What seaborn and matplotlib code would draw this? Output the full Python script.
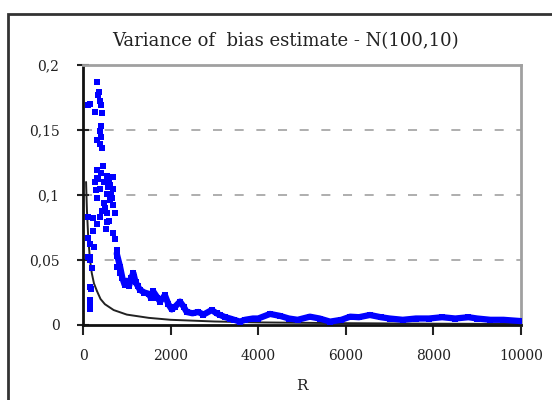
import numpy as np
import pandas as pd
import matplotlib
matplotlib.use("Agg")
import matplotlib.pyplot as plt
import seaborn as sns
from matplotlib.patches import Rectangle
from matplotlib.ticker import FuncFormatter

# scattered estimates at small R
scatter_r = [313, 372, 350, 114, 160, 388, 404, 274, 430, 411, 388, 400, 313, 430, 380,
             313, 456, 540, 690, 274, 616, 388, 690, 540, 313, 616, 690, 500, 540, 730,
             350, 420, 470, 600, 650, 290, 330, 560, 660, 480,
             114, 235, 388, 313, 540, 235, 690, 730, 114, 160, 770, 770, 114, 160, 160,
             770, 845, 160, 180, 160, 160, 160, 200, 250, 440, 520, 600]
scatter_v = [0.187, 0.179, 0.177, 0.169, 0.170, 0.172, 0.169, 0.164, 0.163, 0.153, 0.149, 0.145, 0.142, 0.136, 0.139,
             0.119, 0.122, 0.115, 0.114, 0.110, 0.108, 0.105, 0.105, 0.101, 0.098, 0.096, 0.092, 0.090, 0.086, 0.086,
             0.112, 0.117, 0.110, 0.112, 0.100, 0.104, 0.113, 0.106, 0.098, 0.094,
             0.083, 0.082, 0.083, 0.078, 0.079, 0.072, 0.071, 0.066, 0.067, 0.062, 0.058, 0.053, 0.052, 0.052, 0.050,
             0.045, 0.040, 0.029, 0.028, 0.019, 0.015, 0.012, 0.044, 0.060, 0.088, 0.074, 0.080]

# the dense band for larger R
band_r = [770, 845, 900, 950, 1000, 1050, 1100, 1150, 1200, 1250, 1300, 1400, 1500, 1550,
          1600, 1700, 1760, 1870, 1950, 2025, 2100, 2215, 2300, 2367, 2500, 2633, 2750,
          2938, 3050, 3128, 3250, 3356, 3450, 3584, 3700, 3880, 4000, 4270, 4500, 4700,
          4900, 5180, 5400, 5640, 5900, 6100, 6300, 6550, 6800, 7000, 7300, 7600, 7900,
          8200, 8500, 8800, 9000, 9300, 9600, 10000]
band_v = [0.055, 0.045, 0.036, 0.031, 0.034, 0.030, 0.036, 0.040, 0.033, 0.030, 0.027, 0.025, 0.024, 0.021,
          0.026, 0.021, 0.018, 0.023, 0.016, 0.012, 0.014, 0.018, 0.014, 0.010, 0.009, 0.010, 0.008,
          0.0115, 0.009, 0.0077, 0.006, 0.005, 0.004, 0.0026, 0.004, 0.005, 0.005, 0.0085, 0.007, 0.005,
          0.004, 0.0064, 0.005, 0.0026, 0.004, 0.0064, 0.006, 0.0077, 0.006, 0.005, 0.004, 0.005, 0.005,
          0.006, 0.005, 0.006, 0.005, 0.004, 0.004, 0.003]

# black reference curve
curve_r = [70, 90, 120, 160, 200, 250, 320, 400, 500, 700, 1000, 1500, 2000, 3000, 4000, 6000, 8000, 10000]
curve_v = [0.110, 0.088, 0.067, 0.050, 0.040, 0.032, 0.026, 0.020, 0.016, 0.0115, 0.008, 0.0055,
           0.004, 0.0027, 0.002, 0.0014, 0.001, 0.0008]

y_ticks = [0, 0.05, 0.1, 0.15, 0.2]
x_ticks = [0, 2000, 4000, 6000, 8000, 10000]

sns.set_style("white")
plt.rcParams['font.family'] = ['DejaVu Serif']

fig = plt.figure(figsize=(5.52, 4.0), dpi=100)
ax = fig.add_axes([83 / 552, 1 - 325 / 400, 438 / 552, 260 / 400])

for g in [0.05, 0.1, 0.15]:
    ax.axhline(g, color='#a8a8a8', lw=1.3, dashes=(5, 7), zorder=0)

df_band = pd.DataFrame({'R': band_r, 'v': band_v})
df_sc = pd.DataFrame({'R': scatter_r, 'v': scatter_v})
df_curve = pd.DataFrame({'R': curve_r, 'v': curve_v})

sns.lineplot(data=df_curve, x='R', y='v', ax=ax, color='#222222', lw=1.4, zorder=2)
sns.lineplot(data=df_band, x='R', y='v', ax=ax, color='#0000ff', lw=4.5, zorder=3)
sns.scatterplot(data=df_band, x='R', y='v', ax=ax, color='#0000ff', marker='s', s=20, linewidth=0, zorder=3)
sns.scatterplot(data=df_sc, x='R', y='v', ax=ax, color='#0000ff', marker='s', s=14, linewidth=0, zorder=3)

ax.set_xlim(0, 10000)
ax.set_ylim(0, 0.2)
ax.set_xticks(x_ticks)
ax.set_yticks(y_ticks)
ax.yaxis.set_major_formatter(FuncFormatter(lambda v, p: ('%g' % v).replace('.', ',')))
ax.tick_params(axis='y', direction='inout', length=8, width=1.5, pad=13, labelsize=10, colors='#222222')
ax.tick_params(axis='x', direction='out', length=7, width=1.5, pad=10, labelsize=10, colors='#222222')
ax.tick_params(left=True, bottom=True)

for s in ['left', 'bottom']:
    ax.spines[s].set_color('#111111')
    ax.spines[s].set_linewidth(2)
for s in ['top', 'right']:
    ax.spines[s].set_color('#a0a0a0')
    ax.spines[s].set_linewidth(2)

ax.set_xlabel('R', fontsize=11, labelpad=12, color='#222222')
ax.set_ylabel('')
fig.text(285 / 552, 1 - 41 / 400, 'Variance of  bias estimate - N(100,10)',
         ha='center', va='center', fontsize=13, color='#222222')

fig.patches.append(Rectangle((8 / 552, -0.1), 1.2, 1 - 14 / 400 + 0.1, transform=fig.transFigure,
                             fill=False, edgecolor='#333333', lw=2))

fig.savefig('out.png', dpi=100)
